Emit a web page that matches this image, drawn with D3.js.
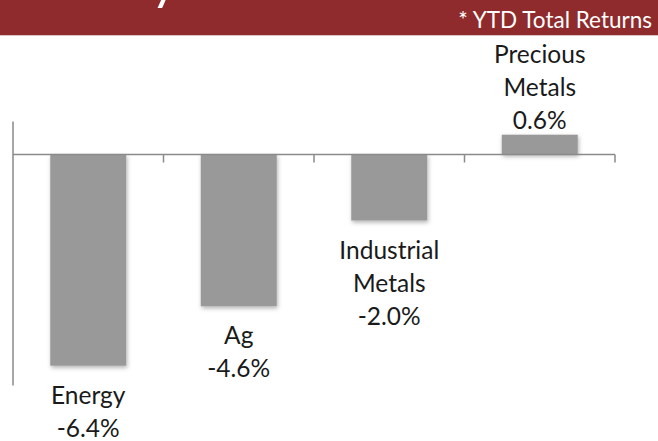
<!DOCTYPE html>
<html>
<head>
<meta charset="utf-8">
<script src="https://cdn.jsdelivr.net/npm/d3@7"></script>
<style>
  body { margin: 0; background: #fff; }
  svg { display: block; }
</style>
</head>
<body>
<script>
// YTD total returns by commodity sector (%)
let categories = ['Energy', 'Ag', 'Industrial Metals', 'Precious Metals']
let labelLines = [['Energy'], ['Ag'], ['Industrial', 'Metals'], ['Precious', 'Metals']]
let returns = [-6.4, -4.6, -2.0, 0.6]
let subtitle = '* YTD Total Returns'

let width = 658
let height = 441
let font = 'Lato, "Open Sans", sans-serif'

let data = categories.map((c, i) => ({ name: c, lines: labelLines[i], value: returns[i] }))

let svg = d3.select('body').append('svg')
    .attr('width', width)
    .attr('height', height)

let defs = svg.append('defs')
let f = defs.append('filter')
    .attr('id', 'shadow')
    .attr('x', '-10%').attr('y', '-10%')
    .attr('width', '130%').attr('height', '130%')
f.append('feDropShadow')
    .attr('dx', 1).attr('dy', 2)
    .attr('stdDeviation', 2)
    .attr('flood-color', '#000')
    .attr('flood-opacity', 0.3)

// banner (title above is cropped off in the original, only a descender shows)
svg.append('rect')
    .attr('x', 0).attr('y', 0)
    .attr('width', width).attr('height', 35)
    .attr('fill', '#8f2b2c')
svg.append('line')
    .attr('x1', 0).attr('x2', width)
    .attr('y1', 35.5).attr('y2', 35.5)
    .attr('stroke', '#d9c4c4')
    .attr('stroke-width', 1)
svg.append('text')
    .text('y')
    .attr('x', 151).attr('y', -1)
    .attr('fill', '#fff')
    .style('font-family', font)
    .style('font-size', '52px')
svg.append('text')
    .text(subtitle)
    .attr('x', 652).attr('y', 28)
    .attr('text-anchor', 'end')
    .attr('fill', '#fff')
    .style('font-family', font)
    .style('font-size', '22.5px')

let x = d3.scaleBand()
    .domain(categories)
    .range([13, 615])
    .padding(0)

let y = d3.scaleLinear()
    .domain([-7, 1])
    .range([385.5, 121.5])

let barW = x.bandwidth() * 0.505

// bars
svg.append('g')
    .attr('fill', '#999999')
    .attr('filter', 'url(#shadow)')
  .selectAll('rect')
  .data(data)
  .join('rect')
    .attr('x', d => x(d.name) + (x.bandwidth() - barW) / 2)
    .attr('y', d => y(Math.max(0, d.value)))
    .attr('width', barW)
    .attr('height', d => Math.abs(y(d.value) - y(0)))

// axes
let axisColor = '#8a8a8a'
svg.append('line')
    .attr('x1', 13).attr('x2', 13)
    .attr('y1', y(1)).attr('y2', y(-7))
    .attr('stroke', axisColor)
    .attr('stroke-width', 1.5)

let gx = svg.append('g')
    .attr('transform', `translate(0,${y(0)})`)
gx.append('line')
    .attr('x1', 13).attr('x2', 615)
    .attr('stroke', axisColor)
    .attr('stroke-width', 1.5)
let bounds = categories.map(c => x(c)).concat([x.range()[1]])
gx.selectAll('line.tk')
  .data(bounds.slice(1))
  .join('line')
    .attr('class', 'tk')
    .attr('x1', d => d).attr('x2', d => d)
    .attr('y1', 0).attr('y2', 8)
    .attr('stroke', axisColor)
    .attr('stroke-width', 1.5)

// data labels
let fmt = v => v.toFixed(1) + '%'
let lineH = 33
let labels = svg.append('g')
    .attr('text-anchor', 'middle')
    .attr('fill', '#1a1a1a')
    .style('font-family', font)
    .style('font-size', '24.5px')

data.forEach(d => {
  let lines = d.lines.concat([fmt(d.value)])
  let cx = x(d.name) + x.bandwidth() / 2
  let y0 = d.value < 0 ? y(d.value) + 38 : y(d.value) - 6 - (lines.length - 1) * lineH
  lines.forEach((t, i) => {
    labels.append('text')
        .text(t)
        .attr('x', cx)
        .attr('y', y0 + i * lineH)
  })
})
</script>
</body>
</html>
